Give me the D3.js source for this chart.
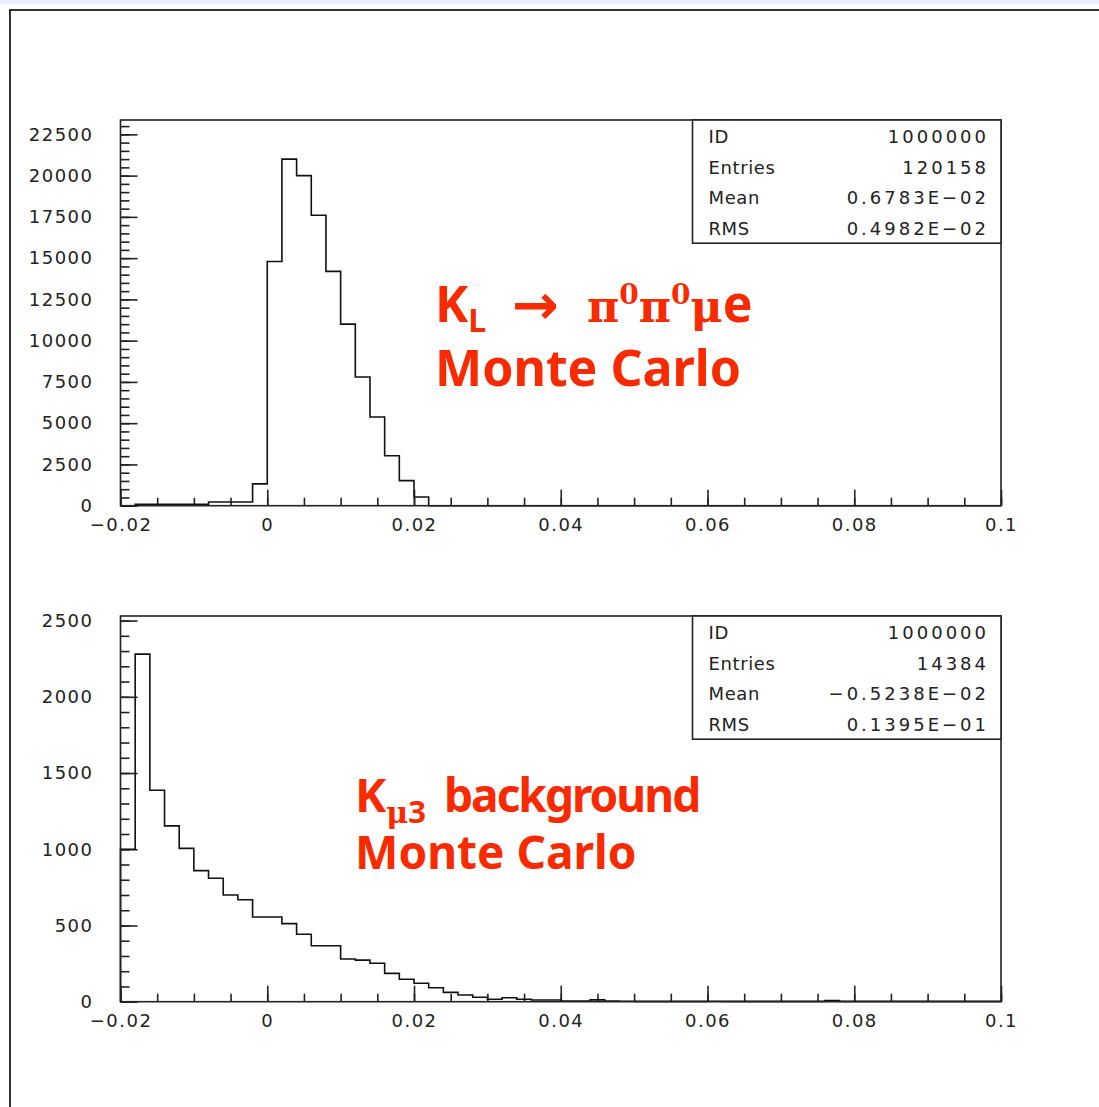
<!DOCTYPE html>
<html>
<head>
<meta charset="utf-8">
<script src="https://cdnjs.cloudflare.com/ajax/libs/d3/7.8.5/d3.min.js"></script>
<style>
	body { margin: 0; background: #fff; }
	svg { display: block; }
	.tick text { font-family: 'DejaVu Sans', sans-serif; font-size: 18px; fill: #222; }
	.statText { font-family: 'DejaVu Sans', sans-serif; font-size: 18px; fill: #222; }
	.note { font-family: 'Noto Sans', sans-serif; font-weight: 700; fill: #fa2a00; }
	.noteSym { font-family: 'DejaVu Serif', serif; font-weight: 700; fill: #fa2a00; }
	.noteArrow { font-family: 'DejaVu Sans', sans-serif; font-weight: 700; fill: #fa2a00; }
</style>
</head>
<body>
<div id="chart"></div>
<script>
// bins of 0.002 from -0.02 to 0.1 (60 bins)
var binStart = -0.02;
var binWidth = 0.002;

var signalCounts = [
	0, 90, 90, 90, 90, 90, 220, 220, 220, 1320,
	14800, 21000, 20000, 17600, 14200, 11000, 7800, 5370, 3030, 1520,
	530, 0, 0, 0, 0, 0, 0, 0, 0, 0,
	0, 0, 0, 0, 0, 0, 0, 0, 0, 0,
	0, 0, 0, 0, 0, 0, 0, 0, 0, 0,
	0, 0, 0, 0, 0, 0, 0, 0, 0, 0
];

var backgroundCounts = [
	1000, 2280, 1387, 1153, 1006, 860, 810, 700, 669, 556,
	556, 512, 442, 367, 367, 280, 273, 252, 186, 147,
	121, 92, 61, 44, 29, 16, 26, 16, 11, 11,
	4, 4, 12, 4, 3, 2, 2, 2, 2, 2,
	3, 2, 2, 2, 2, 2, 2, 2, 8, 2,
	2, 2, 2, 2, 2, 2, 2, 2, 2, 2
];

var xTickValues = [-0.02, 0, 0.02, 0.04, 0.06, 0.08, 0.1];
var xTickLabels = ['\u22120.02', '0', '0.02', '0.04', '0.06', '0.08', '0.1'];

var signalYTicks = [0, 2500, 5000, 7500, 10000, 12500, 15000, 17500, 20000, 22500];
var backgroundYTicks = [0, 500, 1000, 1500, 2000, 2500];

var statLabels = ['ID', 'Entries', 'Mean', 'RMS'];
var signalStats = ['1000000', '120158', '0.6783E\u221202', '0.4982E\u221202'];
var backgroundStats = ['1000000', '14384', '\u22120.5238E\u221202', '0.1395E\u221201'];

function histPanel(){

	var options = {
		left: 120.5,
		top: 120,
		w: 880.5,
		h: 385.7,
		yMax: 23370,
		yMinorStep: 500,
		counts: [],
		yTicks: [],
		stats: [],
		box: { w: 308.5, row: 30.8 }
	};

	var svg, g, x, y;

	function setNewOptions(newOptions){
		for (var k in newOptions)
			options[k] = newOptions[k];
	}

	function binEdge(i){
		return binStart + binWidth * i;
	}

	function stepPoints(){
		var pts = [[binEdge(0), 0]];
		options.counts.forEach(function(c, i){
			pts.push([binEdge(i), c]);
			pts.push([binEdge(i + 1), c]);
		});
		pts.push([binEdge(options.counts.length), 0]);
		return pts;
	}

	function styleAxis(sel){
		sel.select('.domain').remove();
		sel.selectAll('.tick line')
			.attr('stroke', '#222')
			.attr('stroke-width', 1.6);
	}

	function draw(){
		x = d3.scaleLinear().domain([-0.02, 0.1]).range([0, options.w]);
		y = d3.scaleLinear().domain([0, options.yMax]).range([options.h, 0]);

		g = svg.append('g')
			.attr('transform', 'translate(' + options.left + ',' + options.top + ')');

		// minor x ticks
		g.append('g')
			.attr('transform', 'translate(0,' + options.h + ')')
			.call(d3.axisBottom(x)
				.tickValues(d3.range(-4, 21).map(function(i){ return i * 0.005; }))
				.tickSizeInner(-8).tickSizeOuter(0).tickFormat(''))
			.call(styleAxis);

		// major x ticks + labels
		var xAxis = g.append('g')
			.attr('transform', 'translate(0,' + options.h + ')')
			.call(d3.axisBottom(x)
				.tickValues(xTickValues)
				.tickSizeInner(-16).tickSizeOuter(0).tickPadding(10)
				.tickFormat(function(d, i){ return xTickLabels[i]; }))
			.call(styleAxis);
		xAxis.selectAll('.tick text')
			.attr('letter-spacing', 1.5)
			.attr('dy', '0.85em');

		// minor y ticks
		g.append('g')
			.call(d3.axisLeft(y)
				.tickValues(d3.range(0, options.yMax, options.yMinorStep))
				.tickSizeInner(-9).tickSizeOuter(0).tickFormat(''))
			.call(styleAxis);

		// major y ticks + labels
		var yAxis = g.append('g')
			.call(d3.axisLeft(y)
				.tickValues(options.yTicks)
				.tickSizeInner(-17).tickSizeOuter(0).tickPadding(27)
				.tickFormat(function(d){ return String(d); }))
			.call(styleAxis);
		yAxis.selectAll('.tick text')
			.attr('letter-spacing', 1.5);

		// histogram outline
		g.append('path')
			.datum(stepPoints())
			.attr('fill', 'none')
			.attr('stroke', '#111')
			.attr('stroke-width', 1.6)
			.attr('d', d3.line()
				.x(function(d){ return x(d[0]); })
				.y(function(d){ return y(d[1]); }));

		// frame
		g.append('rect')
			.attr('width', options.w)
			.attr('height', options.h)
			.attr('fill', 'none')
			.attr('stroke', '#222')
			.attr('stroke-width', 1.6);

		// statistics box
		var box = g.append('g')
			.attr('transform', 'translate(' + (options.w - options.box.w) + ',0)');

		box.append('rect')
			.attr('width', options.box.w)
			.attr('height', options.box.row * 4)
			.attr('fill', '#fff')
			.attr('stroke', '#222')
			.attr('stroke-width', 1.6);

		box.selectAll('text.statLabel')
			.data(statLabels)
			.enter()
			.append('text')
			.attr('class', 'statText statLabel')
			.attr('x', 16)
			.attr('y', function(d, i){ return options.box.row * (i + 1) - 8; })
			.attr('letter-spacing', 0.6)
			.text(function(d){ return d; });

		box.selectAll('text.statValue')
			.data(options.stats)
			.enter()
			.append('text')
			.attr('class', 'statText statValue')
			.attr('x', options.box.w - 12)
			.attr('y', function(d, i){ return options.box.row * (i + 1) - 8; })
			.attr('text-anchor', 'end')
			.attr('letter-spacing', 3)
			.text(function(d){ return d; });
	}

	return {
		init: function(target, newOptions){
			svg = target;
			if (newOptions)
				setNewOptions(newOptions);
			draw();
		}
	};
}

var svg = d3.select('#chart')
	.append('svg')
	.attr('width', 1099)
	.attr('height', 1107);

svg.append('rect')
	.attr('width', 1099)
	.attr('height', 4)
	.attr('fill', '#eceefb');

// page border
svg.append('path')
	.attr('d', 'M10,1107 L10,10 L1099,10')
	.attr('fill', 'none')
	.attr('stroke', '#333')
	.attr('stroke-width', 2);

histPanel().init(svg, {
	top: 120,
	yMax: 23370,
	yMinorStep: 500,
	counts: signalCounts,
	yTicks: signalYTicks,
	stats: signalStats
});

histPanel().init(svg, {
	top: 616,
	yMax: 2530,
	yMinorStep: 100,
	counts: backgroundCounts,
	yTicks: backgroundYTicks,
	stats: backgroundStats
});

// annotations, top panel
var note1 = svg.append('text').attr('class', 'note').attr('x', 435).attr('y', 322).attr('font-size', 50);
note1.append('tspan').text('K');
note1.append('tspan').attr('font-size', 32).attr('dy', 10).text('L');

svg.append('text').attr('class', 'noteArrow')
	.attr('x', 512).attr('y', 324).attr('font-size', 56)
	.text('\u2192');

var sym1 = svg.append('text').attr('class', 'noteSym').attr('x', 587).attr('y', 322).attr('font-size', 44);
sym1.append('tspan').text('\u03c0');
sym1.append('tspan').attr('font-size', 28).attr('dy', -18).text('0');
sym1.append('tspan').attr('dy', 18).text('\u03c0');
sym1.append('tspan').attr('font-size', 28).attr('dy', -18).text('0');
sym1.append('tspan').attr('dy', 18).text('\u03bc');
sym1.append('tspan').attr('class', 'note').attr('font-family', 'Noto Sans').attr('font-size', 50).text('e');

svg.append('text').attr('class', 'note').attr('x', 435).attr('y', 386).attr('font-size', 50)
	.text('Monte Carlo');

// annotations, bottom panel
var note2 = svg.append('text').attr('class', 'note').attr('x', 355).attr('y', 812).attr('font-size', 47);
note2.append('tspan').text('K');
note2.append('tspan').attr('class', 'noteSym').attr('font-size', 30).attr('dy', 11).text('\u03bc');
note2.append('tspan').attr('font-size', 31).text('3');

svg.append('text').attr('class', 'note').attr('x', 444).attr('y', 812).attr('font-size', 46)
	.attr('letter-spacing', -2)
	.text('background');

svg.append('text').attr('class', 'note').attr('x', 355).attr('y', 869).attr('font-size', 46)
	.text('Monte Carlo');
</script>
</body>
</html>
